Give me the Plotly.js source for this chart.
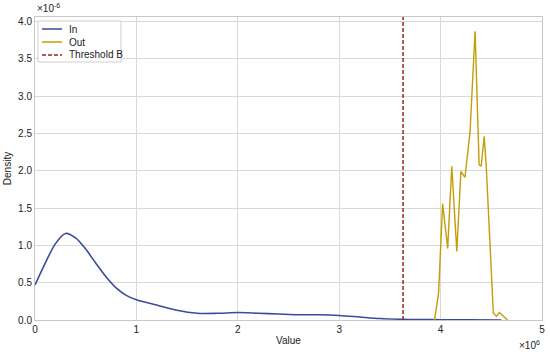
<!DOCTYPE html>
<html>
<head>
<meta charset="utf-8">
<script src="https://cdn.plot.ly/plotly-3.0.1.min.js"></script>
<style>html,body{margin:0;padding:0;background:#fff}#chart{width:550px;height:352px}</style>
</head>
<body>
<div id="chart"></div>
<script>
// Values in units of 1e6 (x) and 1e-6 (y), as displayed on the axes
const inX = [0, 0.1, 0.2, 0.3, 0.4, 0.5, 0.6, 0.7, 0.8, 0.9, 1.0, 1.2, 1.4, 1.6, 1.8, 2.0, 2.2, 2.4, 2.6, 2.8, 3.0, 3.2, 3.4, 3.6, 3.8, 4.0, 4.3, 4.6];
const inY = [0.47, 0.76, 1.02, 1.16, 1.10, 0.95, 0.76, 0.58, 0.43, 0.33, 0.27, 0.20, 0.13, 0.09, 0.09, 0.10, 0.09, 0.08, 0.07, 0.07, 0.06, 0.04, 0.02, 0.01, 0.006, 0.004, 0.002, 0.0];
const outX = [3.94, 3.98, 4.02, 4.07, 4.11, 4.16, 4.20, 4.24, 4.29, 4.34, 4.38, 4.40, 4.43, 4.45, 4.49, 4.52, 4.55, 4.58, 4.66];
const outY = [0.0, 0.36, 1.56, 0.96, 2.06, 0.92, 1.99, 1.91, 2.51, 3.87, 2.08, 2.06, 2.46, 2.06, 0.94, 0.09, 0.05, 0.10, 0.0];
const thresholdB = 3.63;
const yMax = 4.06;
const xTicks = [0, 1, 2, 3, 4, 5];
const yTicks = [0, 0.5, 1, 1.5, 2, 2.5, 3, 3.5, 4];
const yTickText = ['0.0', '0.5', '1.0', '1.5', '2.0', '2.5', '3.0', '3.5', '4.0'];
const seriesNames = ['In', 'Out', 'Threshold B'];
const seriesColors = ['#3a4b9c', '#c59d08', '#8e2a1c'];

const font = {family: 'Liberation Sans, Arial, sans-serif', size: 10, color: '#222'};

const traces = [
  {x: inX, y: inY, type: 'scatter', mode: 'lines', name: seriesNames[0], line: {color: seriesColors[0], width: 1.6, shape: 'spline', smoothing: 0.8}},
  {x: outX, y: outY, type: 'scatter', mode: 'lines', name: seriesNames[1], line: {color: seriesColors[1], width: 1.4}},
  {x: [thresholdB, thresholdB], y: [0, yMax], type: 'scatter', mode: 'lines', name: seriesNames[2], line: {color: seriesColors[2], width: 1.5, dash: '4px,2px'}}
];

const axisCommon = {
  showline: true, linecolor: '#c8c8c8', linewidth: 1, mirror: true,
  showgrid: true, gridcolor: '#d9d9d9', gridwidth: 1,
  zeroline: false, ticks: '', tickfont: font
};

// compact legend (drawn in paper coordinates)
const plotL = 35, plotR = 542, plotT = 17, plotB = 320;
const px = v => (v - plotL) / (plotR - plotL);
const py = v => (plotB - v) / (plotB - plotT);
const shapes = [
  {type: 'rect', xref: 'paper', yref: 'paper', x0: px(38), x1: px(121), y0: py(62), y1: py(21), line: {color: '#cfcfcf', width: 1}, fillcolor: 'rgba(255,255,255,0.9)', layer: 'above'}
];
const annotations = [
  {xref: 'paper', yref: 'paper', x: 0, y: 1, xanchor: 'left', yanchor: 'bottom', yshift: 1, showarrow: false, text: '×10<sup>-6</sup>', font: font},
  {xref: 'paper', yref: 'paper', x: 1, y: 0, xanchor: 'right', yanchor: 'top', yshift: -17, showarrow: false, text: '×10<sup>6</sup>', font: font}
];
const entryY = [29, 42, 55];
seriesNames.forEach((n, i) => {
  shapes.push({type: 'line', xref: 'paper', yref: 'paper', x0: px(42), x1: px(62), y0: py(entryY[i]), y1: py(entryY[i]), layer: 'above',
    line: {color: seriesColors[i], width: i === 2 ? 1.6 : 1.5, dash: i === 2 ? '4px,2px' : 'solid'}});
  annotations.push({xref: 'paper', yref: 'paper', x: px(67), y: py(entryY[i]), xanchor: 'left', yanchor: 'middle', showarrow: false, text: n, font: font});
});

const layout = {
  width: 550, height: 352,
  margin: {l: plotL, r: 550 - plotR, t: plotT, b: 352 - plotB},
  paper_bgcolor: '#fff', plot_bgcolor: '#fff',
  font: font,
  showlegend: false,
  xaxis: Object.assign({}, axisCommon, {range: [0, 5], tickvals: xTicks, ticktext: xTicks.map(String), title: {text: 'Value', font: font, standoff: 2}}),
  yaxis: Object.assign({}, axisCommon, {range: [0, yMax], tickvals: yTicks, ticktext: yTickText, title: {text: 'Density', font: font, standoff: 4}}),
  shapes: shapes,
  annotations: annotations
};

Plotly.newPlot('chart', traces, layout, {displayModeBar: false, staticPlot: true});
</script>
</body>
</html>
